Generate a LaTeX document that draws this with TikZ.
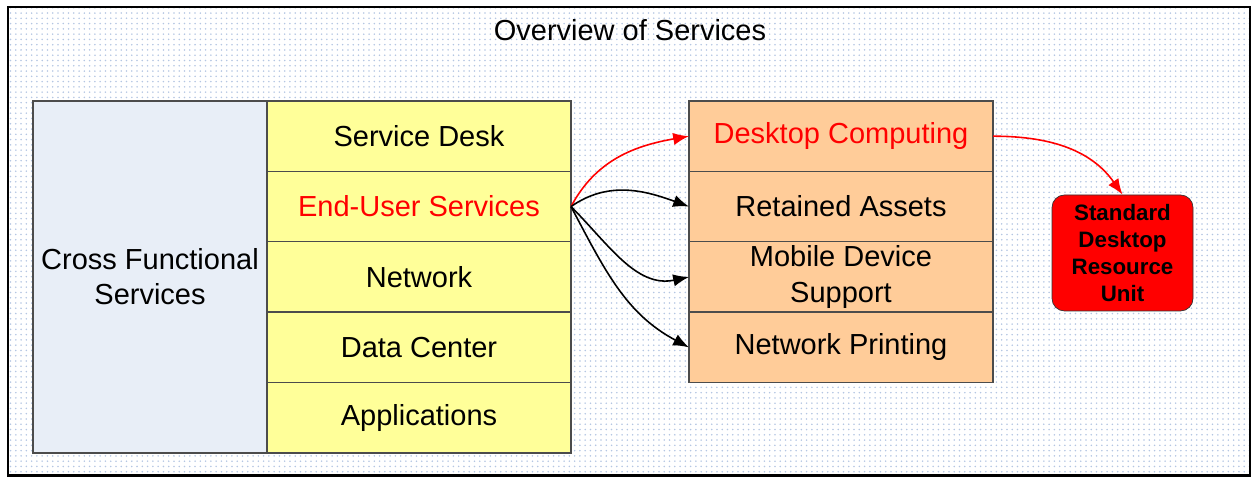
\documentclass[tikz,border=0pt]{standalone}
\usepackage{fontspec}
\setmainfont{Liberation Sans}
\usetikzlibrary{positioning,patterns,arrows.meta}
\definecolor{crossblue}{HTML}{E8EEF7}
\definecolor{svcyellow}{HTML}{FFFF99}
\definecolor{svcorange}{HTML}{FFCC99}
\definecolor{dotblue}{HTML}{B4C6E2}
\tikzset{
  row/.style={draw=black!70, line width=0.8pt, outer sep=0pt, minimum width=6.08cm, minimum height=1.408cm, inner sep=0pt, align=center, font=\fontsize{16.5}{20}\selectfont},
  yrow/.style={row, fill=svcyellow},
  orow/.style={row, fill=svcorange},
  unitbox/.style={draw=black!80, fill=red, rounded corners=0.25cm, minimum width=2.82cm, minimum height=2.32cm, inner sep=0pt, align=center, font=\fontsize{12.7}{15.3}\selectfont\bfseries},
  link/.style={line width=0.9pt, -{Latex[length=9pt,width=7pt]}}
}
\begin{document}
\begin{tikzpicture}
    \useasboundingbox (0,0) rectangle (25.02,9.54);
    \fill[pattern=dots, pattern color=dotblue] (0.16,0.03) rectangle (25.0,9.4);
    \draw[line width=1.2pt] (0.16,0.03) rectangle (25.0,9.4);
    \node[font=\fontsize{16.5}{20}\selectfont] (title) at (12.6,8.94) {Overview of Services};
    \node[draw=black!70, line width=0.8pt, outer sep=0pt, fill=crossblue, minimum width=4.68cm, minimum height=7.04cm, anchor=north west, align=center, font=\fontsize{16.5}{20}\selectfont] (cross) at (0.66,7.52) {Cross Functional\\Services};
    \node[yrow, anchor=north west] (desk) at (cross.north east) {Service Desk};
    \node[yrow, below=0cm of desk, text=red] (enduser) {End-User Services};
    \node[yrow, below=0cm of enduser] (network) {Network};
    \node[yrow, below=0cm of network] (datacenter) {Data Center};
    \node[yrow, below=0cm of datacenter] (apps) {Applications};
    \node[orow, anchor=north west, text=red] (desktop) at (13.78,7.52) {Desktop Computing};
    \node[orow, below=0cm of desktop] (assets) {Retained Assets};
    \node[orow, below=0cm of assets] (mobile) {Mobile Device\\Support};
    \node[orow, below=0cm of mobile] (printing) {Network Printing};
    \node[unitbox] (unit) at (22.45,4.48) {Standard\\Desktop\\Resource\\Unit};
    \draw[link, red] (enduser.east) to[out=62, in=190] (desktop.west);
    \draw[link] (enduser.east) to[out=35, in=160] (assets.west);
    \draw[link] (enduser.east) to[out=-45, in=192] (mobile.west);
    \draw[link] (enduser.east) to[out=-62, in=152] (printing.west);
    \draw[link, red] (desktop.east) to[out=0, in=125] (unit.north);
\end{tikzpicture}
\end{document}
